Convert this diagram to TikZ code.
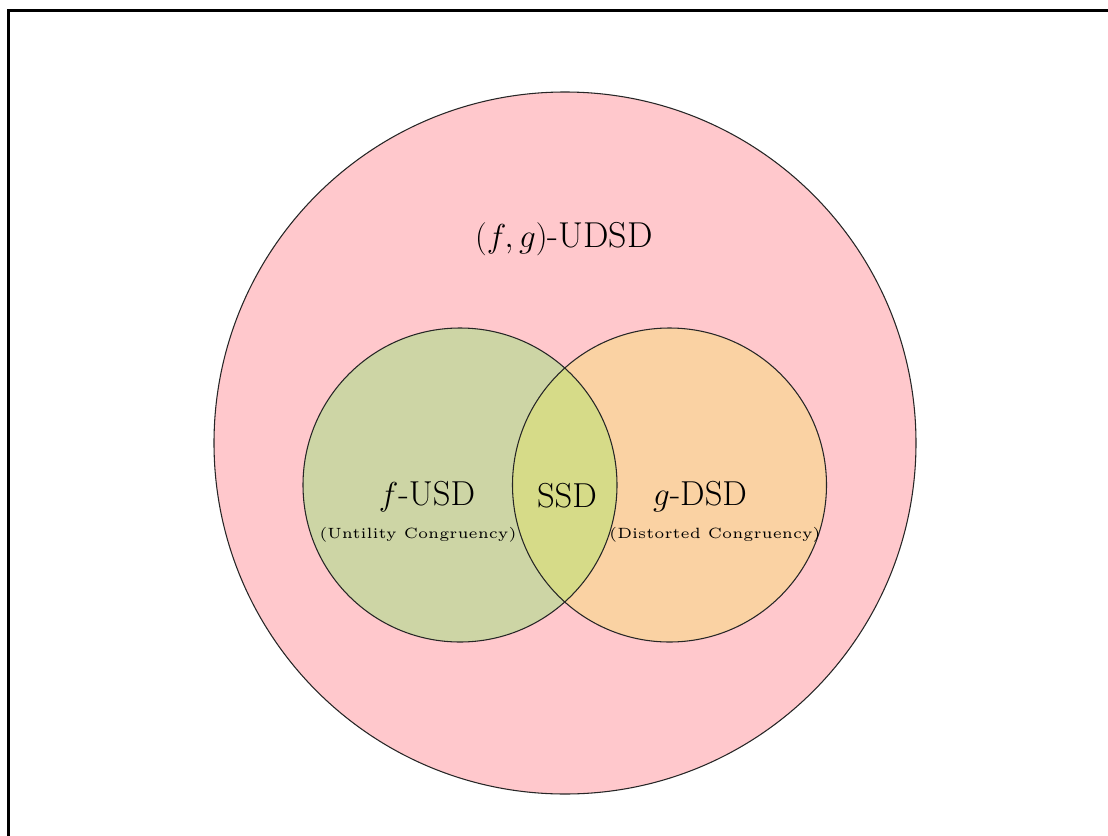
\documentclass[tikz,border=0pt]{standalone}
\definecolor{outerpink}{RGB}{255,200,204}
\definecolor{leftgreen}{RGB}{205,213,165}
\definecolor{rightorange}{RGB}{250,210,163}
\definecolor{lensgreen}{RGB}{214,219,136}
\tikzset{
  setcircle/.style={circle,inner sep=0pt,draw=none},
  outline/.style={draw=black!85,line width=0.8pt},
  biglabel/.style={anchor=base,inner sep=0pt,font=\fontsize{26}{30}\selectfont},
  smalllabel/.style={anchor=base,inner sep=0pt,font=\tiny,scale=2.23}
}
\begin{document}
\begin{tikzpicture}[x=0.75pt,y=-0.75pt]
\useasboundingbox (0,0) rectangle (1108,836);
% frame (top and left edges only)
\coordinate (fbl) at (8.5,836);
\coordinate (ftl) at (8.5,10.5);
\coordinate (ftr) at (1108,10.5);
\draw[line width=2.3pt] (fbl) -- (ftl) -- (ftr);
% sets
\node[setcircle,fill=outerpink,minimum size=526.5pt] (U) at (565,443) {};
\node[setcircle,fill=leftgreen,minimum size=235.5pt] (L) at (460,485) {};
\node[setcircle,fill=rightorange,minimum size=235.5pt] (R) at (669.5,485) {};
\begin{scope}
  \clip (L.center) circle[radius=117.75pt];
  \fill[lensgreen] (R.center) circle[radius=117.75pt];
\end{scope}
\draw[outline] (U.center) circle[radius=263.25pt];
\draw[outline] (L.center) circle[radius=117.75pt];
\draw[outline] (R.center) circle[radius=117.75pt];
% labels
\node[biglabel,font=\fontsize{27}{31}\selectfont] (tU) at (564,247) {$(f,g)$-UDSD};
\node[biglabel] (tL) at (427,505) {$f$-USD};
\node[smalllabel] (sL) at (418,538) {(Untility Congruency)};
\node[biglabel] (tS) at (567,507) {SSD};
\node[biglabel] (tR) at (700,505) {$g$-DSD};
\node[smalllabel] (sR) at (715,538) {(Distorted Congruency)};
\end{tikzpicture}
\end{document}
